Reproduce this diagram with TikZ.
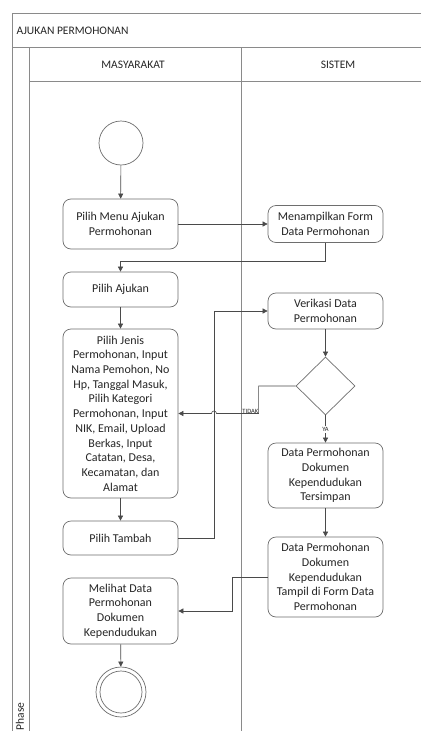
\documentclass[tikz,border=0pt]{standalone}
\usepackage{fontspec}
\setmainfont{Carlito}
\usetikzlibrary{arrows.meta,shapes.geometric}
\definecolor{framegray}{HTML}{8A8A8A}
\definecolor{boxgray}{HTML}{6E6E6E}
\definecolor{linegray}{HTML}{4A4A4A}
\definecolor{txt}{HTML}{262626}
\tikzset{
  frame/.style={draw=framegray,line width=0.8pt},
  act/.style={draw=boxgray,line width=0.7pt,rounded corners=8pt,
    minimum width=115pt,align=center,inner sep=2pt,
    font=\fontsize{12}{14.7}\selectfont,text=txt},
  decision/.style={draw=boxgray,line width=0.7pt,diamond,aspect=1,
    minimum width=59pt,minimum height=58pt,inner sep=0pt},
  flow/.style={draw=linegray,line width=0.6pt,-{Triangle[length=5pt,width=5pt]}},
  lane/.style={font=\fontsize{11.5}{13}\selectfont,text=txt},
  tag/.style={font=\fontsize{6.5}{7}\selectfont,text=txt,inner sep=0.5pt}
}
\begin{document}
\begin{tikzpicture}[x=1pt,y=-1pt]
\useasboundingbox (0,0) rectangle (421,731);
\fill[white] (0,0) rectangle (421,731);

% pool and lanes
\draw[frame] (421,13) -- (12,13) -- (12,731);
\draw[frame] (12,47) -- (421,47);
\draw[frame] (29,47) -- (29,731);
\draw[frame] (29,81) -- (421,81);
\draw[frame] (241,47) -- (241,731);
\node[lane,anchor=west] (pool) at (13,31) {AJUKAN PERMOHONAN};
\node[lane] (laneA) at (133,65) {MASYARAKAT};
\node[lane] (laneB) at (338,65) {SISTEM};
\node[lane,rotate=90,anchor=west] (phase) at (20,734) {Phase};

% start and end
\node[circle,draw=boxgray,line width=0.7pt,minimum size=44pt,inner sep=0pt] (start) at (121,143) {};
\node[circle,draw=boxgray,line width=0.7pt,minimum size=50pt,inner sep=0pt] (end) at (121,692) {};
\draw[boxgray,line width=0.7pt] (end.center) circle[radius=21pt];

% masyarakat activities
\node[act,minimum height=50pt] (menu) at (120.5,224) {Pilih Menu Ajukan\\Permohonan};
\node[act,minimum height=35pt] (ajukan) at (120.5,289.5) {Pilih Ajukan};
\node[act,minimum height=169pt] (isi) at (120.5,413.5) {Pilih Jenis\\Permohonan, Input\\Nama Pemohon, No\\Hp, Tanggal Masuk,\\Pilih Kategori\\Permohonan, Input\\NIK, Email, Upload\\Berkas, Input\\Catatan, Desa,\\Kecamatan, dan\\Alamat};
\node[act,minimum height=34pt] (tambah) at (120.5,538) {Pilih Tambah};
\node[act,minimum height=66pt] (lihat) at (120.5,611) {Melihat Data\\Permohonan\\Dokumen\\Kependudukan};

% sistem activities
\node[act,minimum height=37pt] (form) at (325.5,224) {Menampilkan Form\\Data Permohonan};
\node[act,minimum height=36pt] (verif) at (325.5,311) {Verikasi Data\\Permohonan};
\node[decision] (cek) at (325.5,386) {};
\node[act,minimum height=65pt] (simpan) at (325.5,475.5) {Data Permohonan\\Dokumen\\Kependudukan\\Tersimpan};
\node[act,minimum height=80pt] (tampil) at (325.5,577) {Data Permohonan\\Dokumen\\Kependudukan\\Tampil di Form Data\\Permohonan};

% flows
\draw[flow] (start) -- (menu);
\draw[flow] (menu) -- (form);
\draw[flow] (form.south) -- (form.south |- 0,261) -| (ajukan.north);
\draw[flow] (ajukan) -- (isi);
\draw[flow] (isi) -- (tambah);
\draw[flow] (tambah.east) -- ++(36,0) |- (verif.west);
\draw[flow] (verif) -- (cek);
\coordinate (hop) at (214,413.5);
\draw[flow] (cek.west) -- ++(-37,0) |- ([xshift=2.5pt]hop)
  arc[start angle=0,end angle=180,radius=2.5pt] -- (isi.east);
\node[tag,anchor=east] (tidak) at (259,411) {TIDAK};
\draw[flow] (cek) -- (simpan);
\node[tag,fill=white,inner sep=1pt] (ya) at (325.5,429.5) {YA};
\draw[flow] (simpan) -- (tampil);
\draw[flow] (tampil.west) -- ++(-35,0) |- (lihat.east);
\draw[flow] (lihat) -- (end);
\end{tikzpicture}
\end{document}
